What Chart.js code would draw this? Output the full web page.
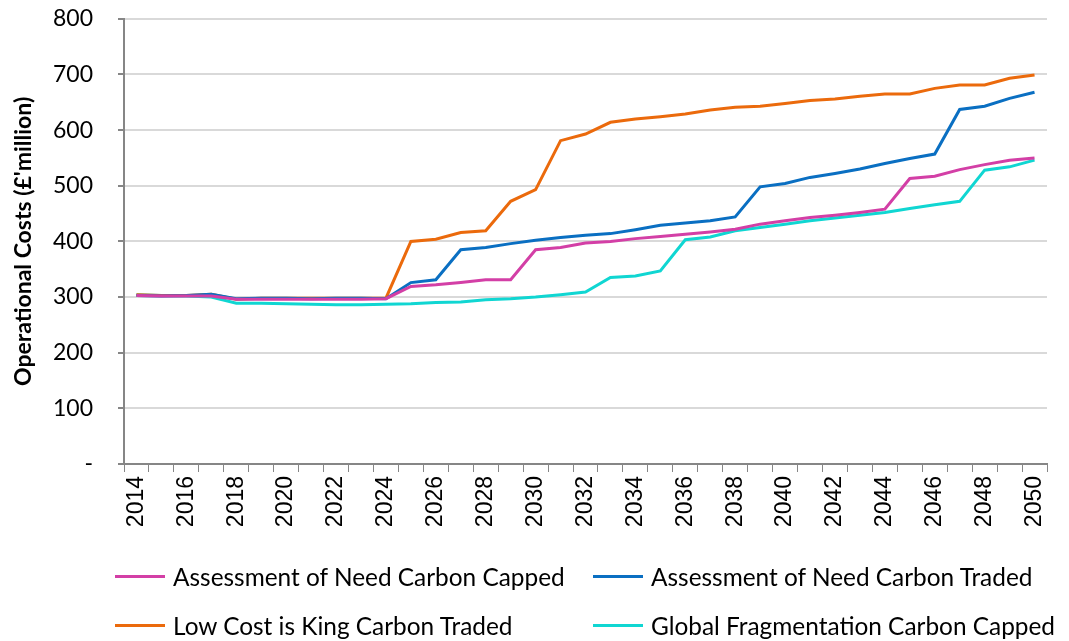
<!DOCTYPE html>
<html>
<head>
<meta charset="utf-8">
<script src="https://cdn.jsdelivr.net/npm/chart.js@4.4.1/dist/chart.umd.min.js"></script>
<style>
  html, body { margin: 0; padding: 0; background: #fff; }
  #wrap { position: relative; width: 1069px; height: 641px; overflow: hidden; }
  #costChart { position: absolute; left: 0; top: -20px; }
  #legend { position: absolute; left: 0; top: 0; width: 1069px; height: 641px; pointer-events: none;
            font-family: Lato, "Open Sans", sans-serif; font-size: 24.4px; color: #000; }
  .item { position: absolute; display: flex; align-items: center; white-space: nowrap; }
  .swatch { width: 50px; height: 3px; margin-right: 8px; }
</style>
</head>
<body>
<div id="wrap">
  <canvas id="costChart" width="1069" height="661"></canvas>
  <div id="legend"></div>
</div>
<script>
// 年份
const years = [];
for (let y = 2014; y <= 2050; y++) years.push(String(y));

// 各情景运营成本 (£ million)
const needCapped = [303, 302, 302, 302, 296, 296, 296, 296, 296, 296, 297,
  319, 322, 326, 331, 331, 385, 389, 397, 400, 405, 409, 413, 417, 422,
  431, 437, 443, 447, 452, 458, 513, 517, 529, 538, 546, 550];
const needTraded = [303, 302, 303, 305, 297, 298, 298, 297, 298, 298, 297,
  326, 331, 385, 389, 396, 402, 407, 411, 414, 421, 429, 433, 437, 444,
  498, 504, 515, 522, 530, 540, 549, 557, 637, 643, 657, 668];
const lowCostKing = [304, 303, 303, 305, 296, 298, 298, 298, 298, 298, 298,
  400, 404, 416, 419, 472, 493, 581, 593, 614, 620, 624, 629, 636, 641,
  643, 648, 653, 656, 661, 665, 665, 675, 681, 681, 693, 699];
const globalCapped = [304, 303, 302, 300, 289, 289, 288, 287, 286, 286, 287,
  288, 290, 291, 295, 297, 300, 304, 309, 335, 338, 347, 403, 408, 419,
  425, 431, 437, 442, 447, 452, 459, 466, 472, 528, 534, 546];

const yTicks = [0, 100, 200, 300, 400, 500, 600, 700, 800];

const seriesList = [
  { label: 'Assessment of Need Carbon Capped', data: needCapped, color: '#D33FA6' },
  { label: 'Assessment of Need Carbon Traded', data: needTraded, color: '#0A6FC2' },
  { label: 'Low Cost is King Carbon Traded', data: lowCostKing, color: '#EB6A0C' },
  { label: 'Global Fragmentation Carbon Capped', data: globalCapped, color: '#10D6D2' }
];

// 图例位置 (两列)
const legendSpots = [[115, 576], [593, 576], [115, 625], [593, 625]];

function buildLegend() {
  const box = document.getElementById('legend');
  seriesList.forEach((s, i) => {
    const item = document.createElement('div');
    item.className = 'item';
    item.style.left = legendSpots[i][0] + 'px';
    item.style.top = (legendSpots[i][1] - 15) + 'px';
    item.style.height = '30px';
    const sw = document.createElement('span');
    sw.className = 'swatch';
    sw.style.background = s.color;
    const txt = document.createElement('span');
    txt.textContent = s.label;
    item.appendChild(sw);
    item.appendChild(txt);
    box.appendChild(item);
  });
}

const uiFont = 'Lato, "Open Sans", sans-serif';

new Chart(document.getElementById('costChart'), {
  type: 'line',
  data: {
    labels: years,
    datasets: seriesList.map(s => ({
      label: s.label,
      data: s.data,
      borderColor: s.color,
      backgroundColor: s.color,
      borderWidth: 3,
      pointRadius: 0,
      tension: 0,
      fill: false
    }))
  },
  options: {
    responsive: false,
    animation: false,
    layout: { padding: { left: 0, right: 22, top: 0, bottom: 0 } },
    plugins: {
      legend: { display: false },
      tooltip: { enabled: false }
    },
    scales: {
      x: {
        offset: true,
        grid: {
          display: true,
          offset: true,
          drawOnChartArea: false,
          drawTicks: true,
          tickLength: 8,
          color: '#868686'
        },
        border: { display: true, color: '#868686', width: 2 },
        ticks: {
          autoSkip: false,
          minRotation: 90,
          maxRotation: 90,
          padding: 4,
          color: '#000',
          font: { family: '"Liberation Sans", Arial, sans-serif', size: 23 },
          callback: function(val, idx) {
            return idx % 2 === 0 ? years[idx] : '';
          }
        },
        afterFit: function(scale) { scale.height = 661 - 484; }
      },
      y: {
        min: 0,
        max: 800,
        afterBuildTicks: function(scale) {
          scale.ticks = yTicks.map(v => ({ value: v }));
        },
        grid: {
          color: '#D9D9D9',
          lineWidth: 2,
          tickLength: 6,
          tickColor: '#868686'
        },
        border: { display: true, color: '#868686', width: 2 },
        ticks: {
          padding: 25,
          color: '#000',
          font: { family: uiFont, size: 23 },
          callback: function(v) { return v === 0 ? '-' : v; }
        },
        title: {
          display: true,
          text: "Operational Costs (£'million)",
          color: '#000',
          font: { family: uiFont, size: 23, weight: 'bold' },
          padding: { top: 10, bottom: 0 }
        },
        afterFit: function(scale) { scale.width = 124; }
      }
    }
  }
});

buildLegend();
</script>
</body>
</html>
